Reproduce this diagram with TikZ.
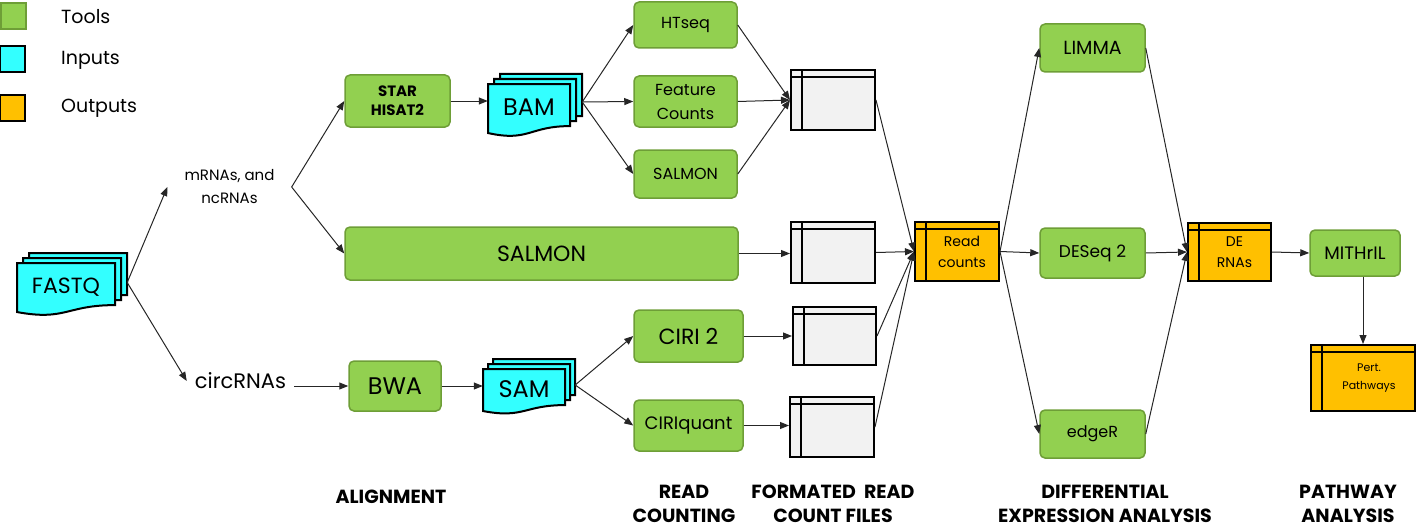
\documentclass[tikz,border=0pt]{standalone}
\usepackage{fontspec}
\setmainfont{Poppins}
\usetikzlibrary{arrows.meta}
\definecolor{toolg}{HTML}{92D050}
\definecolor{toolb}{HTML}{6E9E37}
\definecolor{incy}{HTML}{33FFFF}
\definecolor{outy}{HTML}{FFC000}
\definecolor{tblg}{HTML}{F2F2F2}
\newcommand\docshape[4]{\path[docline] (#1,#2) -- ({#1+#3},#2) -- ({#1+#3},{#2+0.802*#4}) .. controls ({#1+0.5*#3},{#2+0.802*#4}) and ({#1+0.5*#3},{#2+1.107*#4}) .. (#1,{#2+0.934*#4}) -- cycle;}
\begin{document}
\begin{tikzpicture}[x=1pt,y=-1pt,
  tool/.style={draw=toolb, fill=toolg, line width=1.5pt, rounded corners=5pt, inner sep=0pt, align=center},
  docline/.style={draw=black, fill=incy, line width=2pt},
  doctext/.style={inner sep=0pt, align=center},
  tablebox/.style={draw=black, line width=2pt, inner sep=0pt, align=center,
    path picture={
      \draw[line width=2pt] ([yshift=-7pt]path picture bounding box.north west) -- ([yshift=-7pt]path picture bounding box.north east);
      \draw[line width=2pt] ([xshift=11pt]path picture bounding box.north west) -- ([xshift=11pt]path picture bounding box.south west);}},
  graytbl/.style={tablebox, fill=tblg, minimum width=84pt, minimum height=60pt},
  outtbl/.style={tablebox, fill=outy},
  legsq/.style={draw=black, line width=2pt, minimum width=25pt, minimum height=26pt, inner sep=0pt},
  txt/.style={inner sep=0pt, align=center},
  conn/.style={draw=black!85, line width=1pt, -{Triangle[length=9pt,width=7pt]}},
  lbl/.style={inner sep=0pt, align=center, font=\bfseries\fontsize{19}{24}\selectfont}
]
\useasboundingbox (0,0) rectangle (1416,527);

% legend
\node[legsq, draw=toolb, fill=toolg] (legtool) at (13,16.5) {};
\node[legsq, fill=incy] (leginput) at (12.5,59) {};
\node[legsq, fill=outy] (legoutput) at (12.5,108) {};
\node[txt, anchor=west, font=\fontsize{19}{23}\selectfont] (legtooltxt) at (61,17) {Tools};
\node[txt, anchor=west, font=\fontsize{19}{23}\selectfont] (leginputtxt) at (61,60) {Inputs};
\node[txt, anchor=west, font=\fontsize{19}{23}\selectfont] (legoutputtxt) at (61,108) {Outputs};

% input documents
\docshape{29}{253}{98}{52.5}
\docshape{23}{258}{98}{52.5}
\docshape{17}{263}{98}{52.5}
\node[doctext, minimum width=98pt, minimum height=49pt, font=\fontsize{22}{26}\selectfont] (fastq) at (66,287.5) {FASTQ};

\docshape{500}{74}{82}{52.5}
\docshape{494}{79}{82}{52.5}
\docshape{488}{84}{82}{52.5}
\node[doctext, minimum width=82pt, minimum height=49pt, font=\fontsize{24}{28}\selectfont] (bam) at (529,107) {BAM};

\docshape{493}{359}{82}{45}
\docshape{488}{364}{82}{45}
\docshape{483}{369}{82}{45}
\node[doctext, minimum width=82pt, minimum height=42pt, font=\fontsize{24}{28}\selectfont] (sam) at (524,389) {SAM};

% text labels
\node[txt, inner xsep=17pt, font=\fontsize{15}{23}\selectfont] (mrna) at (229.5,187) {mRNAs, and\\ncRNAs};
\node[txt, inner xsep=8pt, font=\fontsize{21}{25}\selectfont] (circ) at (240.5,381) {circRNAs};

% tools
\node[tool, minimum width=105pt, minimum height=52pt, font=\bfseries\fontsize{15}{19}\selectfont] (star) at (397.5,101) {STAR\\HISAT2};
\node[tool, minimum width=393pt, minimum height=53pt, font=\fontsize{22}{26}\selectfont] (salmonbig) at (541.5,253.5) {SALMON};
\node[tool, minimum width=92pt, minimum height=50pt, font=\fontsize{24}{28}\selectfont] (bwa) at (395,386) {BWA};
\node[tool, minimum width=103pt, minimum height=46pt, font=\fontsize{16}{20}\selectfont] (htseq) at (685.5,25) {HTseq};
\node[tool, minimum width=103pt, minimum height=51pt, font=\fontsize{16}{24}\selectfont] (fc) at (685.5,101.5) {Feature\\Counts};
\node[tool, minimum width=103pt, minimum height=48pt, font=\fontsize{16}{20}\selectfont] (salmonsm) at (685.5,174) {SALMON};
\node[tool, minimum width=109pt, minimum height=52pt, font=\fontsize{22}{26}\selectfont] (ciri2) at (688.5,336) {CIRI 2};
\node[tool, minimum width=109pt, minimum height=51pt, font=\fontsize{18}{22}\selectfont] (ciriq) at (688.5,425.5) {CIRIquant};
\node[tool, minimum width=105pt, minimum height=48pt, font=\fontsize{19}{23}\selectfont] (limma) at (1092.5,48) {LIMMA};
\node[tool, minimum width=105pt, minimum height=50pt, font=\fontsize{17}{21}\selectfont] (deseq) at (1092.5,253) {DESeq 2};
\node[tool, minimum width=105pt, minimum height=48pt, font=\fontsize{16}{20}\selectfont] (edger) at (1092.5,434) {edgeR};
\node[tool, minimum width=90pt, minimum height=46pt, font=\fontsize{18}{22}\selectfont] (mith) at (1355,253) {MITHrIL};

% formatted count files
\node[graytbl] (t1) at (833,100) {};
\node[graytbl, minimum height=61pt] (t2) at (833,252.5) {};
\node[graytbl, minimum width=83pt, minimum height=58pt] (t3) at (834.5,336) {};
\node[graytbl] (t4) at (832,427) {};

% outputs
\node[outtbl, minimum width=84pt, minimum height=59pt, font=\fontsize{14}{21}\selectfont] (rc) at (957,251.5) {\hspace*{10pt}Read\\\hspace*{10pt}counts};
\node[outtbl, minimum width=83pt, minimum height=58pt, font=\fontsize{14}{21}\selectfont] (de) at (1229.5,252) {\hspace*{10pt}DE\\\hspace*{10pt}RNAs};
\node[outtbl, minimum width=104pt, minimum height=66pt, font=\fontsize{11}{18}\selectfont] (pert) at (1363,378) {\hspace*{12pt}Pert.\\\hspace*{12pt}Pathways};

% connectors
\draw[conn] ([xshift=12pt,yshift=5pt]fastq.east) -- (mrna.west);
\draw[conn] ([xshift=12pt,yshift=5pt]fastq.east) -- (circ.west);
\draw[conn] (mrna.east) -- (star.west);
\draw[conn] (mrna.east) -- (salmonbig.west);
\draw[conn] (circ.east |- bwa.west) -- (bwa.west);
\draw[conn] (star.east) -- (star.east -| bam.west);
\draw[conn] (bwa.east) -- (bwa.east -| sam.west);
\draw[conn] ([xshift=12pt,yshift=5pt]bam.east) -- (htseq.west);
\draw[conn] ([xshift=12pt,yshift=5pt]bam.east) -- (fc.west);
\draw[conn] ([xshift=12pt,yshift=5pt]bam.east) -- (salmonsm.west);
\draw[conn] ([xshift=10pt,yshift=4pt]sam.east) -- (ciri2.west);
\draw[conn] ([xshift=10pt,yshift=4pt]sam.east) -- (ciriq.west);
\draw[conn] (htseq.east) -- (t1.west);
\draw[conn] (fc.east) -- (t1.west);
\draw[conn] (salmonsm.east) -- (t1.west);
\draw[conn] (salmonbig.east) -- (salmonbig.east -| t2.west);
\draw[conn] (ciri2.east) -- (ciri2.east -| t3.west);
\draw[conn] (ciriq.east) -- (ciriq.east -| t4.west);
\draw[conn] (t1.east) -- (rc.west);
\draw[conn] (t2.east) -- (rc.west);
\draw[conn] (t3.east) -- (rc.west);
\draw[conn] (t4.east) -- (rc.west);
\draw[conn] (rc.east) -- (limma.west);
\draw[conn] (rc.east) -- (deseq.west);
\draw[conn] (rc.east) -- (edger.west);
\draw[conn] (limma.east) -- (de.west);
\draw[conn] (deseq.east) -- (de.west);
\draw[conn] (edger.east) -- (de.west);
\draw[conn] (de.east) -- (mith.west);
\draw[conn] (pert.north |- mith.south) -- (pert.north);

% stage labels
\node[lbl] (lalign) at (391,497) {ALIGNMENT};
\node[lbl] (lcount) at (684,504) {READ\\COUNTING};
\node[lbl] (lfiles) at (833,504) {FORMATED\ \ READ\\COUNT FILES};
\node[lbl] (ldiff) at (1105,504) {DIFFERENTIAL\\EXPRESSION ANALYSIS};
\node[lbl] (lpath) at (1348,504) {PATHWAY\\ANALYSIS};
\end{tikzpicture}
\end{document}
